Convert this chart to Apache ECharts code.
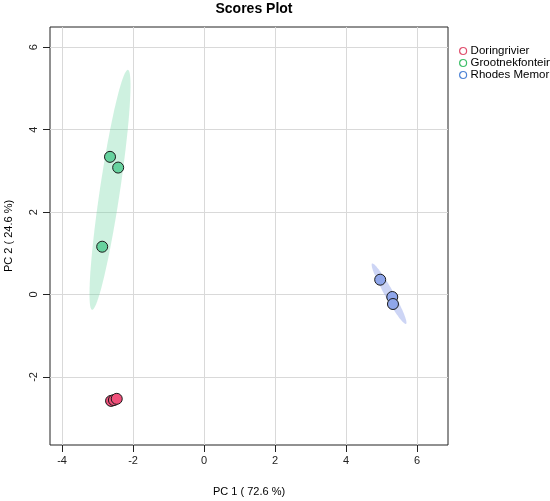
<!DOCTYPE html>
<html>
<head>
<meta charset="utf-8">
<script src="https://cdn.jsdelivr.net/npm/echarts@6/dist/echarts.min.js"></script>
<style>
  html, body { margin: 0; padding: 0; background: #fff; }
  #chart { width: 550px; height: 501px; }
</style>
</head>
<body>
<div id="chart"></div>
<script>
// groups
const groupNames = ['Doringrivier', 'Grootnekfontein', 'Rhodes Memorial'];

// PCA scores (PC1, PC2) per group
const doringPC1 = [-2.62, -2.54, -2.46];
const doringPC2 = [-2.58, -2.56, -2.53];
const grootPC1 = [-2.65, -2.42, -2.87];
const grootPC2 = [3.34, 3.08, 1.16];
const rhodesPC1 = [4.96, 5.30, 5.32];
const rhodesPC2 = [0.36, -0.06, -0.23];

// 95% confidence ellipses: centre, half major axis vector, half minor axis vector
const ellipseCx = [-2.54, -2.65, 5.21];
const ellipseCy = [-2.56, 2.54, 0.02];
const ellipseMajX = [0.12, 0.505, 0.48];
const ellipseMajY = [0.03, 2.91, -0.73];
const ellipseMinX = [0.01, 0.28, 0.1];
const ellipseMinY = [-0.04, -0.036, 0.066];

// tick labels
const xTicks = [-4, -2, 0, 2, 4, 6];
const yTicks = [-2, 0, 2, 4, 6];

const pointFill = ['#f0507a', '#66d29e', '#8fa6ea'];
const ellipseFill = ['rgba(240,80,122,0.2)', 'rgba(102,210,158,0.32)', 'rgba(130,150,230,0.4)'];
const legendColor = ['#e0506e', '#3fbf6a', '#4f84d6'];

const chart = echarts.init(document.getElementById('chart'));

const zip = (xs, ys) => xs.map((x, i) => [x, ys[i]]);
const scores = [zip(doringPC1, doringPC2), zip(grootPC1, grootPC2), zip(rhodesPC1, rhodesPC2)];

const ellipseData = ellipseCx.map((cx, i) => [cx, ellipseCy[i], ellipseMajX[i], ellipseMajY[i], ellipseMinX[i], ellipseMinY[i], i]);

const font = 'Liberation Sans, Arial, sans-serif';

const option = {
  animation: false,
  backgroundColor: '#fff',
  textStyle: { fontFamily: font },
  title: {
    text: 'Scores Plot',
    left: 249,
    textAlign: 'center',
    top: -3,
    textStyle: { fontSize: 14, fontWeight: 'bold', color: '#000', fontFamily: font }
  },
  legend: {
    orient: 'vertical',
    left: 454,
    top: 40,
    itemWidth: 7,
    itemHeight: 7,
    itemGap: 0,
    icon: 'circle',
    textStyle: { fontSize: 11.5, color: '#000', lineHeight: 12, height: 12, padding: [0, 0, 0, -1] },
    data: groupNames.map((n, i) => ({
      name: n,
      itemStyle: { color: 'transparent', borderColor: legendColor[i], borderWidth: 1.2 }
    }))
  },
  grid: {
    left: 50, right: 102, top: 27, bottom: 56,
    outerBoundsMode: 'none',
    containLabel: false,
    show: true, borderColor: '#222', borderWidth: 1
  },
  xAxis: {
    type: 'value',
    min: -4.34,
    max: 6.87,
    name: 'PC 1 ( 72.6 %)',
    nameLocation: 'middle',
    nameGap: 41,
    nameTextStyle: { fontSize: 11, color: '#000' },
    axisLine: { show: false, onZero: false },
    axisTick: { show: true, customValues: xTicks, length: 7, lineStyle: { color: '#222' } },
    axisLabel: { customValues: xTicks, fontSize: 11, color: '#222', margin: 10 },
    splitLine: { show: true, customValues: xTicks, lineStyle: { color: '#d9d9d9' } }
  },
  yAxis: {
    type: 'value',
    min: -3.65,
    max: 6.49,
    name: 'PC 2 ( 24.6 %)',
    nameLocation: 'middle',
    nameGap: 36,
    nameTextStyle: { fontSize: 11, color: '#000' },
    axisLine: { show: false, onZero: false },
    axisTick: { show: true, customValues: yTicks, length: 7, lineStyle: { color: '#222' } },
    axisLabel: { customValues: yTicks, fontSize: 11, color: '#222', rotate: 90, margin: 11 },
    splitLine: { show: true, customValues: yTicks, lineStyle: { color: '#d9d9d9' } }
  },
  series: [
    {
      type: 'custom',
      silent: true,
      z: 1,
      data: ellipseData,
      renderItem: (params, api) => {
        const cx = api.value(0), cy = api.value(1);
        const ax = api.value(2), ay = api.value(3);
        const bx = api.value(4), by = api.value(5);
        const g = api.value(6);
        const pts = [];
        for (let k = 0; k < 96; k++) {
          const t = (k / 96) * Math.PI * 2;
          pts.push(api.coord([
            cx + Math.cos(t) * ax + Math.sin(t) * bx,
            cy + Math.cos(t) * ay + Math.sin(t) * by
          ]));
        }
        return {
          type: 'polygon',
          shape: { points: pts },
          style: { fill: ellipseFill[g], stroke: null }
        };
      }
    }
  ].concat(groupNames.map((n, i) => ({
    name: n,
    type: 'scatter',
    z: 3,
    symbol: 'circle',
    symbolSize: 11,
    data: scores[i],
    itemStyle: { color: pointFill[i], borderColor: '#1a1a1a', borderWidth: 1, opacity: 1 }
  })))
};

chart.setOption(option);
</script>
</body>
</html>
